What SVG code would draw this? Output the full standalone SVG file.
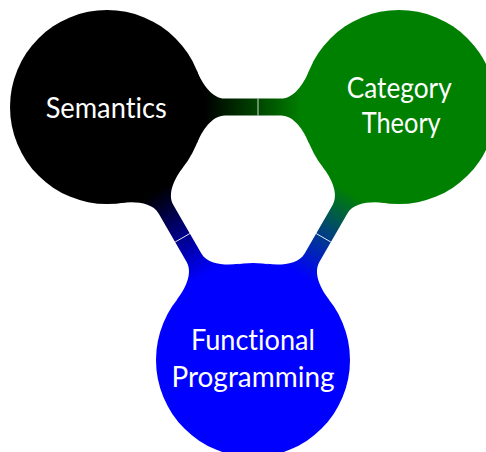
<svg xmlns="http://www.w3.org/2000/svg" xmlns:xlink="http://www.w3.org/1999/xlink" width="486" height="452" viewBox="0 0 486 452">
  <style>
    .label { font-family: Lato, "Noto Sans", "DejaVu Sans", sans-serif; font-size: 29px; fill: #ffffff; text-anchor: middle; font-variant-ligatures: none; font-feature-settings: "liga" 0, "dlig" 0; }
    .switch { stroke: #ffffff; stroke-width: 0.8; fill: none; }
  </style>
  <defs>
    <!-- connection bar between two circles (r=97) whose centres are 292 apart, drawn along +x -->
    <path id="bar" d="M 89.94 -36.34 C 95.2 -23.4 105 -8.5 118 -8.5 L 174 -8.5 C 187 -8.5 196.8 -23.4 202.06 -36.34 L 202.06 36.34 C 196.8 23.4 187 8.5 174 8.5 L 118 8.5 C 105 8.5 95.2 23.4 89.94 36.34 Z"/>
    <linearGradient id="gSC" gradientUnits="userSpaceOnUse" x1="98" y1="0" x2="195" y2="0">
      <stop offset="0" stop-color="#000000"/>
      <stop offset="1" stop-color="#008000"/>
    </linearGradient>
    <linearGradient id="gSF" gradientUnits="userSpaceOnUse" x1="98" y1="0" x2="195" y2="0">
      <stop offset="0" stop-color="#000000"/>
      <stop offset="1" stop-color="#0000ff"/>
    </linearGradient>
    <linearGradient id="gCF" gradientUnits="userSpaceOnUse" x1="98" y1="0" x2="195" y2="0">
      <stop offset="0" stop-color="#008000"/>
      <stop offset="1" stop-color="#0000ff"/>
    </linearGradient>
  </defs>

  <g id="connectors">
    <g transform="translate(107,107)">
      <use xlink:href="#bar" fill="url(#gSC)"/>
      <line class="switch" x1="151" y1="-8.5" x2="151" y2="8.5"/>
    </g>
    <g transform="translate(107,107) rotate(60)">
      <use xlink:href="#bar" fill="url(#gSF)"/>
      <line class="switch" x1="151" y1="-8.5" x2="151" y2="8.5"/>
    </g>
    <g transform="translate(399,107) rotate(120)">
      <use xlink:href="#bar" fill="url(#gCF)"/>
      <line class="switch" x1="151" y1="-8.5" x2="151" y2="8.5"/>
    </g>
  </g>

  <g id="semantics">
    <circle cx="107" cy="107" r="97" fill="#000000"/>
    <text class="label" x="106.2" y="118.3" textLength="121" lengthAdjust="spacingAndGlyphs">Semantics</text>
  </g>

  <g id="category-theory">
    <circle cx="399" cy="107" r="97" fill="#008000"/>
    <text class="label" x="399.2" y="98.3" textLength="105" lengthAdjust="spacingAndGlyphs">Category</text>
    <text class="label" x="401.2" y="133.3" textLength="79" lengthAdjust="spacingAndGlyphs">Theory</text>
  </g>

  <g id="functional-programming">
    <circle cx="253" cy="360" r="97" fill="#0000ff"/>
    <text class="label" x="252.9" y="350" textLength="124" lengthAdjust="spacingAndGlyphs">Functional</text>
    <text class="label" x="253" y="386.7" textLength="163" lengthAdjust="spacingAndGlyphs">Programming</text>
  </g>
</svg>
